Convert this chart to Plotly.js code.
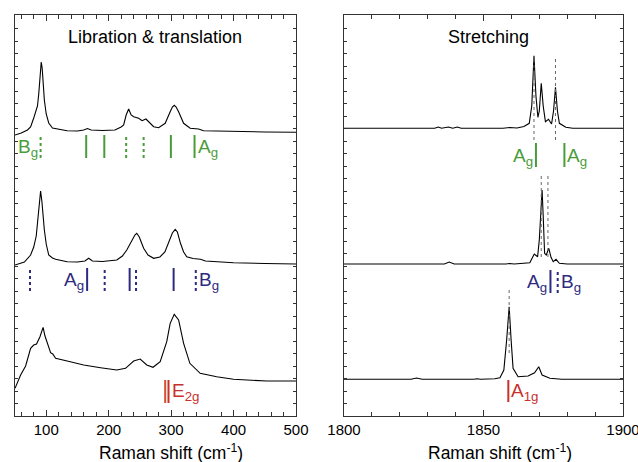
<!DOCTYPE html>
<html><head><meta charset="utf-8">
<script src="https://cdn.plot.ly/plotly-3.0.1.min.js"></script>
<style>html,body{margin:0;padding:0;background:#fff}#chart{width:638px;height:462px}</style>
</head><body><div id="chart"></div>
<script>
// ---- Left panel spectra (Raman shift cm-1, intensity arb. offset units)
const libTopX = [50,60,70,75,80,84,86,88,90,92,93.5,95,97,100,104,110,125,133.5,150,160,166,172,190,210,220,224,228,232,236,240,248,253.5,259.7,265,272,280,290.5,298.5,302,305,308,312,320,330.5,344,352,370,400,450,500];
const libTopY = [281,283,286,289,298,306,310,322,342,354,348,330,316,302,293,288,286,285.3,285,286,287.5,286,285.5,286,289,291,301,307,301,299.3,297.7,295.3,297,293.3,289.3,288.3,292.7,304.3,309,310.7,309,304.3,292.7,287.7,287,285.3,285,284.5,284,283.7];

const libMidX = [50,65,75,80,84,87,89,91,93,95,97,100,104,110,115,133.5,150,162,168,174,190,213,222,229,236,242,245,249,256,263,272,282,290,297,302,306.5,310,315,320,325,335,343,347,355,380,400,450,500];
const libMidY = [151,154,161,169,180,200,215,225,215,200,186,172,161,158,156.7,154.3,154,155,157.7,155,154.5,156,160,166,174,181,182.7,179,167.7,161,157.7,159,164,175,183,186.7,184,172.7,164,159.3,157.5,157,156.7,155,154,153.3,152.5,152];

const libBotX = [50,59,67,75,80,84.5,90,95,98,101.5,107,110.5,115,133.5,160,187,213,227,240,250.5,261,271,282.5,293,298.5,305,312,320,330,346.5,373,400,453,500];
const libBotY = [27.7,41,50,67.7,71,72,79.3,88.7,80,72.7,63.3,62,57.7,55,51,48.3,46,47.7,55,57,51,48.7,54.3,74.3,92.7,101.7,96,72.7,52.7,42.7,39.3,36.7,35,35];

// ---- Right panel spectra
const strTopX = [1800,1832.5,1833.8,1835,1837.4,1839,1840.6,1842,1857,1859.4,1862,1864.5,1866.4,1867.3,1868.1,1868.8,1869.5,1870,1870.7,1871.4,1872.2,1873.3,1874.4,1875.1,1875.8,1876.5,1877.2,1879.5,1882,1900];
const strTopY = [287.7,287.7,289,287.7,289,287.7,289,287.7,287.7,288.5,288,289.5,292.7,310,360.3,320,298.7,305,332.7,310,294.3,296.7,292,305,328.7,305,292.7,288.7,287.7,287.7];

const strMidX = [1800,1836,1837.7,1839.5,1858,1859.4,1861,1866.6,1868.2,1869.4,1870,1870.6,1871,1871.4,1871.9,1872.5,1873.4,1874.2,1875,1876,1877.2,1880,1900];
const strMidY = [152,152,154,152,152,152.5,152,153.3,162,159.3,176,210,226,200,162.7,161,167.7,158.7,154.3,156.7,152.7,152,152];

const strBotX = [1800,1824,1826,1828,1846.5,1847.7,1849,1854,1855.9,1857.3,1858.3,1859.2,1859.9,1860.6,1862.4,1866,1868.3,1869.8,1871,1873.8,1878,1900];
const strBotY = [36.7,36.7,38,36.7,36.7,37.3,36.7,37.3,38.3,46,76,109.3,76,47.7,39.3,40,43.3,49.3,41,37.7,36.7,36.7];

// ---- Mode positions (cm-1)
const libGreenSolid = [164,193,299.6,337.5];
const libGreenDot = [91,228,256];
const libBlueSolid = [165.5,233.6,304];
const libBlueDot = [74,193.6,243.8,339.5];
const libRed = [290.5,295.8];
const strGreenSolid = [1868.8,1879];
const strBlueSolid = [1874];
const strBlueDot = [1876.6];
const strRed = [1858.9];
const strGuideTop = [1868.1,1875.8];
const strGuideMid = [1870.7,1873.1];
const strGuideBot = [1859.2];

// ---- Labels
const panelTitles = ["Libration &amp; translation","Stretching"];
const xTitle = "Raman shift (cm<sup>-1</sup>)";
const stretchTicks = [1800,1850,1900];

const GREEN = '#4a9c3b', BLUE = '#2d2a80', RED = '#c8302c', RED2 = '#d6502c';
const FONT = 'Liberation Sans, Arial, sans-serif';

function segs(xs, y0, y1){
  const X=[],Y=[];
  xs.forEach(v=>{X.push(v,v,null);Y.push(y0,y1,null);});
  return {x:X,y:Y};
}
function spec(x,y,xa,ya){
  return {x:x,y:y,xaxis:xa,yaxis:ya,type:'scatter',mode:'lines',line:{color:'#000',width:1.1},hoverinfo:'skip',showlegend:false};
}
function mark(xs,y0,y1,color,dash,xa,ya,w){
  const s=segs(xs,y0,y1);
  return {x:s.x,y:s.y,xaxis:xa,yaxis:ya,type:'scatter',mode:'lines',line:{color:color,width:w||2,dash:dash},hoverinfo:'skip',showlegend:false};
}

const traces = [
  spec(libTopX,libTopY,'x','y'),
  spec(libMidX,libMidY,'x','y'),
  spec(libBotX,libBotY,'x','y'),
  spec(strTopX,strTopY,'x2','y2'),
  spec(strMidX,strMidY,'x2','y2'),
  spec(strBotX,strBotY,'x2','y2'),
  mark(libGreenSolid,258,281,GREEN,'solid','x','y'),
  mark(libGreenDot,258,281,GREEN,'dot','x','y'),
  mark(libBlueSolid,125,148,BLUE,'solid','x','y'),
  mark(libBlueDot,125,148,BLUE,'dot','x','y'),
  mark([libRed[0]],13,36,RED2,'solid','x','y'),
  mark([libRed[1]],13,36,RED,'solid','x','y'),
  mark(strGreenSolid,249,273,GREEN,'solid','x2','y2'),
  mark(strBlueSolid,123,146,BLUE,'solid','x2','y2'),
  mark(strBlueDot,123,146,BLUE,'dot','x2','y2'),
  mark(strRed,14,36,RED,'solid','x2','y2'),
  mark(strGuideTop,276,359,'#666','dot','x2','y2',1),
  mark(strGuideMid,159,243,'#666','dot','x2','y2',1),
  mark(strGuideBot,63,126,'#666','dot','x2','y2',1)
];

function lab(text,x,y,color,side,xa,ya){
  return {text:text,x:x,y:y,xref:xa,yref:ya,showarrow:false,
    xanchor: side==='r'?'right':'left', yanchor:'middle', xshift: side==='r'?-1:1,
    font:{family:FONT,size:19,color:color}};
}
const annotations = [
  {text:panelTitles[0],x:274.6,y:379,xref:'x',yref:'y',showarrow:false,font:{family:FONT,size:18,color:'#000'}},
  {text:panelTitles[1],x:1851.9,y:379,xref:'x2',yref:'y2',showarrow:false,font:{family:FONT,size:18,color:'#000'}},
  {text:xTitle,x:0.2566,y:-0.09,xref:'paper',yref:'paper',xanchor:'center',yanchor:'middle',showarrow:false,font:{family:FONT,size:17.5,color:'#000'}},
  {text:xTitle,x:0.7985,y:-0.09,xref:'paper',yref:'paper',xanchor:'center',yanchor:'middle',showarrow:false,font:{family:FONT,size:17.5,color:'#000'}},
  lab('B<sub>g</sub>',libGreenDot[0],268,GREEN,'r','x','y'),
  lab('A<sub>g</sub>',libGreenSolid[3],268,GREEN,'l','x','y'),
  lab('A<sub>g</sub>',libBlueSolid[0],135,BLUE,'r','x','y'),
  lab('B<sub>g</sub>',libBlueDot[3],135,BLUE,'l','x','y'),
  lab('E<sub>2g</sub>',libRed[1],24,RED,'l','x','y'),
  lab('A<sub>g</sub>',strGreenSolid[0],259,GREEN,'r','x2','y2'),
  lab('A<sub>g</sub>',strGreenSolid[1],259,GREEN,'l','x2','y2'),
  lab('A<sub>g</sub>',strBlueSolid[0],133,BLUE,'r','x2','y2'),
  lab('B<sub>g</sub>',strBlueDot[0],133,BLUE,'l','x2','y2'),
  lab('A<sub>1g</sub>',strRed[0],24,RED,'l','x2','y2')
];

const axBase = {showline:true,linecolor:'#333',linewidth:1,mirror:'allticks',ticks:'inside',showgrid:false,zeroline:false,tickcolor:'#333',tickfont:{family:FONT,size:15,color:'#000'},ticklabeloverflow:'allow'};
const yBase = Object.assign({},axBase,{range:[0,401],showticklabels:false,tick0:0,dtick:12.5,ticklen:3,fixedrange:true});

const layout = {
  width:638,height:462,
  margin:{l:15,r:15,t:15,b:46},
  paper_bgcolor:'#fff',plot_bgcolor:'#fff',
  showlegend:false,
  font:{family:FONT},
  xaxis:Object.assign({},axBase,{domain:[0,0.4622],range:[50,500.001],tick0:0,dtick:100,ticklen:6,
    minor:{ticks:'inside',dtick:20,tick0:0,ticklen:4,tickcolor:'#333'}}),
  xaxis2:Object.assign({},axBase,{domain:[0.5411,1],range:[1800,1900.001],tickvals:stretchTicks,ticktext:stretchTicks.map(String),ticklen:6,anchor:'y2',
    minor:{ticks:'inside',dtick:10,tick0:1800,ticklen:4,tickcolor:'#333'}}),
  yaxis:Object.assign({},yBase,{anchor:'x'}),
  yaxis2:Object.assign({},yBase,{anchor:'x2'}),
  annotations:annotations
};
Plotly.newPlot('chart',traces,layout,{staticPlot:true,displayModeBar:false});
</script>
</body></html>
